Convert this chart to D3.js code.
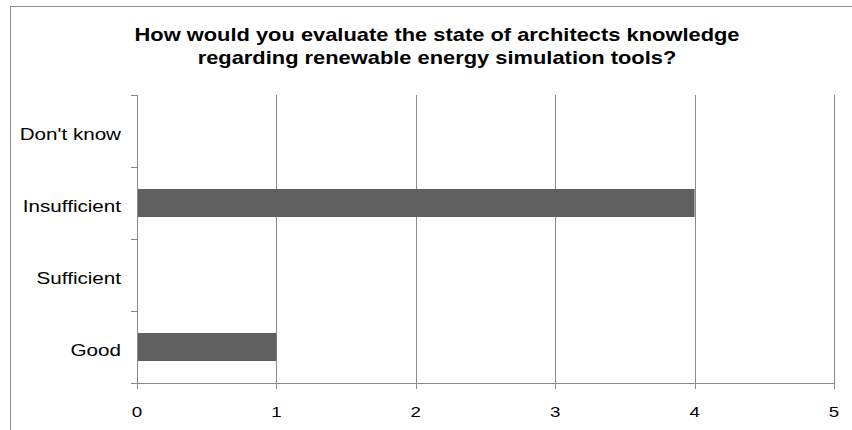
<!DOCTYPE html>
<html><head><meta charset="utf-8">
<script src="https://cdn.jsdelivr.net/npm/d3@7"></script>
<style>body{margin:0;background:#fff}svg{display:block}</style>
</head><body>
<script>
const categories = ["Good", "Sufficient", "Insufficient", "Don't know"];
const values = [1, 0, 4, 0];
const xTicks = [0, 1, 2, 3, 4, 5];
const titleLines = ["How would you evaluate the state of architects knowledge", "regarding renewable energy simulation tools?"];

const W = 852, H = 430;
const SX = 1.25; // horizontal stretch of the text in the reference
const svg = d3.select("body").append("svg").attr("width", W).attr("height", H);
const font = "'Liberation Sans', Arial, sans-serif";

// outer chart border
svg.append("path").attr("d", "M10.5,430 V6.5 H852").attr("fill", "none").attr("stroke", "#8c8c8c").attr("stroke-width", 1);

const L = 137, R = 834, T = 95, B = 383;
const x = d3.scaleLinear().domain([0, 5]).range([L, R]);
const y = d3.scaleBand().domain(categories.slice().reverse()).range([T, B]).paddingInner(0.61).paddingOuter(0.305);
const yb = d3.scaleBand().domain(categories.slice().reverse()).range([T, B]);

const grid = "#8a8a8a";
// gridlines
svg.append("g").selectAll("line").data(xTicks.filter(d => d > 0)).join("line")
  .attr("x1", d => Math.round(x(d)) + 0.5).attr("x2", d => Math.round(x(d)) + 0.5)
  .attr("y1", T).attr("y2", B).attr("stroke", grid);

// bars
svg.append("g").selectAll("rect").data(categories.map((c, i) => ({c, v: values[i]})).filter(d => d.v > 0)).join("rect")
  .attr("x", x(0) + 1).attr("y", d => y(d.c)).attr("width", d => x(d.v) - x(0) - 1).attr("height", y.bandwidth())
  .attr("fill", "#606060");

// y axis line and ticks
svg.append("line").attr("x1", L + 0.5).attr("x2", L + 0.5).attr("y1", T).attr("y2", B).attr("stroke", grid);
const bounds = [T, ...categories.slice().reverse().map(c => yb(c) + yb.bandwidth())];
svg.append("g").selectAll("line").data(bounds).join("line")
  .attr("x1", L - 6).attr("x2", L).attr("y1", d => Math.round(d) + 0.5).attr("y2", d => Math.round(d) + 0.5).attr("stroke", grid);

// x axis
svg.append("line").attr("x1", L).attr("x2", R + 0.5).attr("y1", B + 0.5).attr("y2", B + 0.5).attr("stroke", grid);
svg.append("g").selectAll("line").data(xTicks).join("line")
  .attr("x1", d => Math.round(x(d)) + 0.5).attr("x2", d => Math.round(x(d)) + 0.5)
  .attr("y1", B).attr("y2", B + 6).attr("stroke", grid);
svg.append("g").selectAll("text").data(xTicks).join("text")
  .attr("transform", d => `translate(${x(d)},417) scale(${SX},1)`).attr("text-anchor", "middle")
  .attr("font-family", font).attr("font-size", 15).attr("fill", "#000").text(d => d);

// y labels
svg.append("g").selectAll("text").data(categories).join("text")
  .attr("transform", d => `translate(121,${yb(d) + yb.bandwidth() / 2 + 8.5}) scale(${SX},1)`).attr("text-anchor", "end")
  .attr("font-family", font).attr("font-size", 16.5).attr("fill", "#000").text(d => d);

// title
svg.append("g").selectAll("text").data(titleLines).join("text")
  .attr("transform", (d, i) => `translate(437,${41 + i * 23}) scale(${SX},1)`).attr("text-anchor", "middle")
  .attr("font-family", font).attr("font-size", 17.5).attr("font-weight", "bold").attr("fill", "#000").text(d => d);
</script>
</body></html>
